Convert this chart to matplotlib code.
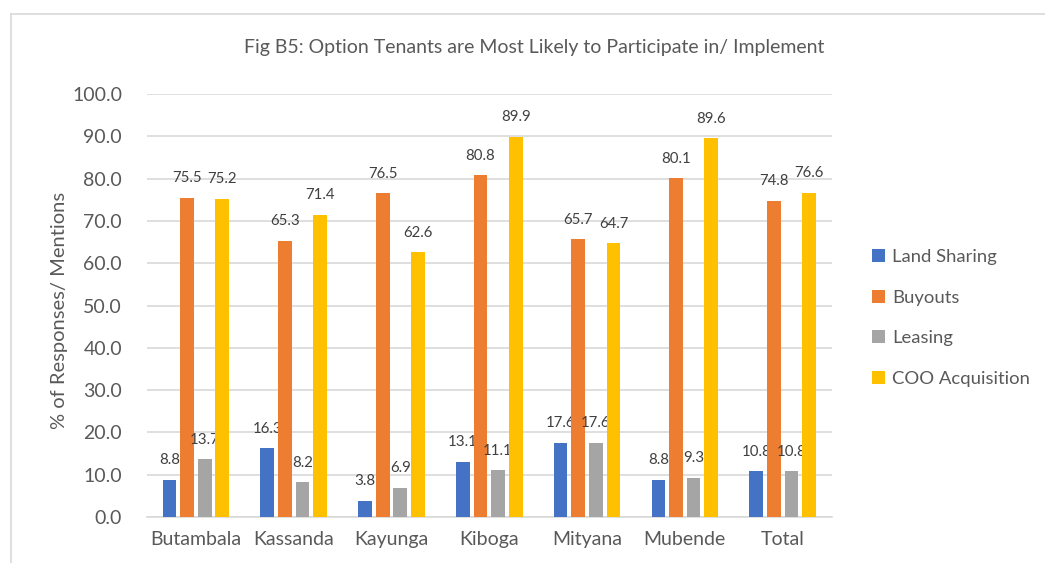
import numpy as np
import matplotlib
matplotlib.use('Agg')
import matplotlib.pyplot as plt
from matplotlib.lines import Line2D

plt.rcParams['font.family'] = ['Lato', 'DejaVu Sans']

categories = ['Butambala', 'Kassanda', 'Kayunga', 'Kiboga', 'Mityana', 'Mubende', 'Total']
land_sharing = [8.8, 16.3, 3.8, 13.1, 17.6, 8.8, 10.8]
buyouts = [75.5, 65.3, 76.5, 80.8, 65.7, 80.1, 74.8]
leasing = [13.7, 8.2, 6.9, 11.1, 17.6, 9.3, 10.8]
coo_acquisition = [75.2, 71.4, 62.6, 89.9, 64.7, 89.6, 76.6]

series = [('Land Sharing', land_sharing, '#4472C4'),
          ('Buyouts', buyouts, '#ED7D31'),
          ('Leasing', leasing, '#A5A5A5'),
          ('COO Acquisition', coo_acquisition, '#FFC000')]

txt = '#595959'

fig = plt.figure(figsize=(10.45, 5.63), dpi=100)
ax = fig.add_axes([0.1407, 0.0817, 0.655, 0.7513])

x = np.arange(len(categories))
w = 0.14
pitch = 0.18
for i, (name, vals, col) in enumerate(series):
    pos = x + (i - 1.5) * pitch
    bars = ax.bar(pos, vals, width=w, color=col, label=name, zorder=3)
    for b, v in zip(bars, vals):
        ax.annotate('%.1f' % v, (b.get_x() + b.get_width() / 2, v),
                    xytext=(0, 9), textcoords='offset points',
                    ha='center', va='bottom', fontsize=10.8, color='#404040')

ax.set_xlim(-0.5, len(categories) - 0.5)
ax.set_ylim(0, 100)
ax.set_yticks(np.arange(0, 101, 10))
ax.set_yticklabels(['%.1f' % t for t in np.arange(0, 101, 10)])
ax.set_xticks(x)
ax.set_xticklabels(categories)
ax.tick_params(axis='both', length=0, labelsize=14, colors=txt)
ax.tick_params(axis='y', pad=18)
ax.tick_params(axis='x', pad=10)
ax.grid(axis='y', color='#D9D9D9', linewidth=1.2, zorder=0)
for s in ['top', 'right', 'left']:
    ax.spines[s].set_visible(False)
ax.spines['bottom'].set_color('#D9D9D9')
ax.spines['bottom'].set_linewidth(1.2)

fig.text(60 / 1045, 1 - 310 / 563, '% of Responses/ Mentions', rotation=90,
         ha='center', va='center', fontsize=14.5, color=txt)

fig.text(0.511, 0.916, 'Fig B5: Option Tenants are Most Likely to Participate in/ Implement',
         ha='center', va='center', fontsize=14, color=txt)

ax.legend(loc='center left', bbox_to_anchor=(855 / 1045, 1 - 318 / 563),
          bbox_transform=fig.transFigure, frameon=False,
          fontsize=13.3, labelcolor=txt, handlelength=0.7, handleheight=0.7,
          handletextpad=0.4, labelspacing=1.32)

fig.add_artist(Line2D([11 / 1045, 11 / 1045], [0, 1 - 14 / 563], color='#D9D9D9', linewidth=1.2))
fig.add_artist(Line2D([11 / 1045, 1], [1 - 14 / 563, 1 - 14 / 563], color='#D9D9D9', linewidth=1.2))

fig.savefig('out.png', dpi=100)
